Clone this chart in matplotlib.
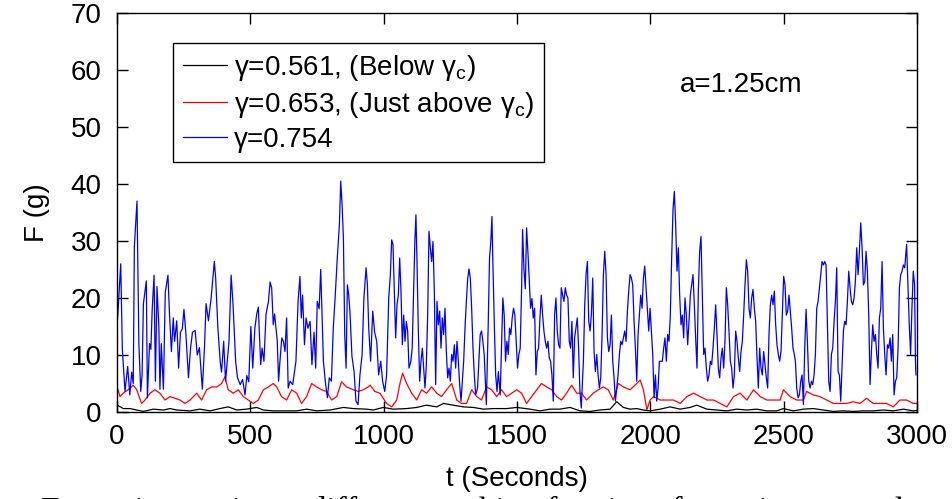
import matplotlib
matplotlib.use("Agg")
import matplotlib.pyplot as plt
import numpy as np

# force readings (seconds, grams)
blue_pts = np.array([
    (0, 15), (3, 17), (14, 26), (20, 11), (30, 3.6), (40, 8), (48, 3), (55, 7), (61, 5), (65, 29),
    (75, 37), (82, 12), (89, 3.6), (94, 6.4), (99, 19), (107, 22), (110, 23), (114, 2.5), (122, 12), (127, 11),
    (132, 18), (139, 24), (144, 5.4), (150, 22), (157, 15), (161, 4), (166, 12), (174, 4), (181, 21), (191, 24),
    (197, 17), (204, 10.6), (211, 16.5), (216, 12.4), (224, 16), (231, 7.7), (238, 14), (245, 14.6), (251, 18), (258, 14),
    (268, 6), (276, 11.3), (283, 14), (293, 14.3), (301, 10), (309, 11.3), (320, 4), (328, 11.3), (334, 19), (343, 16),
    (353, 20), (365, 26.4), (370, 23.5), (378, 15), (387, 8.8), (392, 7), (400, 12.4), (407, 5.4), (420, 12.4), (428, 24),
    (435, 19), (445, 8.8), (452, 6), (462, 4.8), (471, 5.7), (480, 3), (487, 6.4), (494, 5.3), (502, 15), (509, 7.7),
    (517, 14.7), (524, 17.2), (530, 18.4), (534, 13.6), (539, 8.3), (544, 11.2), (551, 8.9), (559, 17.2), (568, 19.4), (574, 22.8),
    (580, 21.8), (586, 15.3), (591, 17.2), (596, 14.7), (601, 12.4), (606, 5.4), (611, 8.9), (618, 13.0), (624, 12.4), (630, 10.6),
    (636, 16.5), (642, 4.2), (649, 5.4), (659, 4.8), (664, 6.5), (671, 8.9), (679, 19.4), (686, 23.8), (691, 16.5), (696, 20.5),
    (703, 11.8), (709, 16.5), (716, 14.7), (724, 15.9), (731, 8.3), (739, 14.0), (745, 7.7), (751, 19.4), (758, 18.1), (764, 25.0),
    (769, 17.0), (774, 8.9), (781, 5.4), (789, 2.5), (796, 6.0), (804, 5.4), (811, 14.7), (818, 20.1), (826, 27.0), (834, 32.9),
    (839, 40.5), (844, 36.4), (849, 30.5), (854, 13.6), (859, 7.7), (864, 22.3), (869, 20.5), (874, 17.2), (881, 9.8), (889, 7.1),
    (896, 1.9), (904, 1.3), (911, 6.5), (919, 10.0), (926, 20.0), (934, 25.3), (939, 22.3), (944, 14.7), (951, 8.9), (959, 17.7),
    (966, 14.0), (974, 12.4), (981, 6.5), (989, 8.9), (996, 5.4), (1004, 3.6), (1011, 6.5), (1019, 20.0), (1025, 24.0), (1030, 30.2),
    (1035, 29.4), (1040, 21.2), (1045, 13.0), (1050, 18.8), (1055, 20.5), (1060, 27.0), (1065, 21.2), (1070, 11.8), (1075, 17.0), (1080, 12.4),
    (1085, 15.9), (1090, 14.2), (1095, 7.7), (1102, 8.9), (1107, 11.2), (1112, 20.5), (1117, 30.0), (1121, 34.6), (1125, 26.4), (1130, 14.2),
    (1135, 5.4), (1140, 8.9), (1145, 11.2), (1150, 7.7), (1155, 4.2), (1160, 8.3), (1165, 17.0), (1170, 31.7), (1175, 28.8), (1180, 26.4),
    (1185, 29.9), (1190, 21.2), (1195, 4.8), (1200, 19.4), (1205, 15.3), (1210, 17.7), (1215, 11.2), (1220, 16.5), (1225, 13.6), (1230, 18.2),
    (1235, 10.6), (1240, 6.0), (1245, 7.7), (1250, 5.4), (1255, 10.1), (1260, 8.9), (1265, 11.8), (1270, 7.7), (1275, 12.4), (1280, 8.9),
    (1285, 4.8), (1290, 1.9), (1295, 5.4), (1300, 8.9), (1305, 14.7), (1310, 19.3), (1315, 23.4), (1320, 25.1), (1325, 23.4), (1330, 18.1),
    (1335, 11.2), (1340, 6.5), (1345, 3.0), (1352, 4.2), (1357, 8.9), (1362, 13.6), (1367, 14.2), (1372, 12.4), (1377, 10.1), (1385, 1.3),
    (1392, 15.2), (1397, 27.0), (1402, 30.0), (1406, 34.3), (1410, 25.3), (1415, 15.2), (1420, 6.5), (1425, 3.6), (1430, 7.1), (1437, 3.0),
    (1442, 11.2), (1447, 20.0), (1452, 17.0), (1457, 8.9), (1462, 12.4), (1467, 10.1), (1472, 14.7), (1477, 13.6), (1482, 16.5), (1487, 18.2),
    (1492, 17.0), (1497, 12.4), (1502, 7.7), (1507, 10.1), (1512, 11.2), (1517, 21.2), (1521, 32.0), (1526, 25.1), (1531, 21.6), (1536, 32.3),
    (1541, 28.0), (1546, 23.0), (1551, 18.2), (1556, 19.9), (1561, 16.5), (1566, 18.2), (1571, 6.5), (1576, 10.6), (1581, 11.2), (1586, 16.5),
    (1591, 20.5), (1596, 17.0), (1601, 14.2), (1606, 12.4), (1611, 11.2), (1616, 12.4), (1621, 9.5), (1626, 8.9), (1631, 6.5), (1636, 1.9),
    (1641, 17.0), (1646, 20.0), (1651, 14.2), (1656, 11.8), (1661, 11.2), (1666, 21.8), (1671, 20.5), (1676, 19.4), (1681, 21.8), (1686, 20.5),
    (1691, 20.0), (1696, 12.4), (1701, 11.2), (1706, 15.9), (1711, 6.0), (1716, 13.0), (1721, 14.7), (1726, 16.5), (1731, 11.2), (1736, 3.6),
    (1741, 0.7), (1749, 8.9), (1754, 18.8), (1759, 24.1), (1764, 26.4), (1769, 15.9), (1774, 14.2), (1779, 17.2), (1784, 23.5), (1789, 10.6),
    (1794, 7.1), (1799, 10.1), (1804, 6.5), (1809, 4.2), (1814, 6.0), (1819, 13.6), (1824, 24.1), (1829, 28.2), (1834, 24.1), (1839, 13.0),
    (1844, 10.6), (1849, 11.8), (1854, 17.0), (1859, 8.9), (1864, 6.0), (1869, 1.9), (1874, 4.2), (1879, 6.5), (1884, 10.1), (1889, 12.4),
    (1894, 11.8), (1899, 13.0), (1904, 14.2), (1909, 12.4), (1914, 17.7), (1919, 21.2), (1924, 24.1), (1929, 23.5), (1934, 22.3), (1939, 15.9),
    (1944, 11.2), (1949, 5.4), (1954, 13.6), (1959, 17.0), (1964, 20.5), (1969, 18.2), (1974, 23.5), (1979, 25.6), (1984, 21.8), (1989, 17.7),
    (1994, 14.2), (1999, 18.2), (2004, 14.2), (2009, 10.1), (2014, 2.5), (2019, 6.5), (2024, 1.9), (2029, 4.2), (2034, 8.9), (2040, 8.9),
    (2045, 8.9), (2050, 11.2), (2055, 13.0), (2060, 8.9), (2065, 13.6), (2070, 12.4), (2075, 17.0), (2080, 27.0), (2085, 35.5), (2090, 38.7),
    (2095, 32.9), (2100, 24.7), (2105, 28.8), (2110, 20.5), (2115, 15.3), (2120, 17.0), (2125, 13.0), (2130, 20.0), (2135, 17.0), (2140, 11.8),
    (2145, 15.9), (2150, 20.5), (2155, 22.3), (2160, 24.1), (2165, 18.8), (2170, 12.9), (2175, 7.7), (2180, 21.2), (2185, 28.2), (2190, 30.8),
    (2195, 20.5), (2200, 10.1), (2205, 11.2), (2210, 7.7), (2215, 5.4), (2220, 6.5), (2225, 8.9), (2230, 8.3), (2235, 11.2), (2240, 14.7),
    (2245, 18.8), (2250, 13.6), (2255, 7.7), (2260, 6.0), (2265, 9.5), (2270, 11.2), (2275, 7.7), (2280, 12.4), (2285, 21.8), (2290, 18.8),
    (2295, 14.2), (2300, 8.9), (2305, 7.7), (2310, 4.2), (2315, 6.5), (2320, 14.2), (2325, 12.4), (2330, 9.5), (2335, 7.1), (2340, 10.6),
    (2345, 12.4), (2350, 17.0), (2355, 22.3), (2360, 26.7), (2365, 24.7), (2370, 18.2), (2375, 16.5), (2380, 20.0), (2385, 21.5), (2390, 18.2),
    (2395, 15.9), (2400, 9.5), (2405, 4.2), (2410, 11.2), (2415, 7.7), (2420, 6.5), (2425, 10.6), (2430, 8.3), (2435, 6.0), (2440, 4.2),
    (2445, 13.6), (2450, 18.8), (2455, 20.5), (2460, 18.8), (2465, 21.2), (2470, 15.3), (2475, 11.8), (2480, 10.1), (2485, 8.9), (2490, 10.6),
    (2495, 17.0), (2500, 23.8), (2505, 22.3), (2510, 17.0), (2515, 17.7), (2520, 20.5), (2525, 17.7), (2530, 14.7), (2535, 11.2), (2540, 10.1),
    (2544, 8.9), (2549, 4.2), (2554, 2.5), (2559, 3.0), (2564, 5.4), (2569, 6.5), (2574, 1.3), (2579, 11.2), (2584, 18.0), (2589, 12.4),
    (2594, 5.4), (2599, 4.2), (2604, 5.4), (2609, 4.8), (2614, 6.5), (2619, 10.1), (2624, 18.2), (2629, 19.4), (2634, 21.8), (2639, 24.1),
    (2644, 26.4), (2649, 25.8), (2654, 26.4), (2659, 25.8), (2664, 15.3), (2669, 5.4), (2674, 3.6), (2679, 10.1), (2684, 11.2), (2689, 15.9),
    (2694, 19.4), (2699, 25.3), (2704, 7.1), (2709, 6.5), (2714, 1.9), (2719, 8.3), (2724, 14.2), (2729, 15.9), (2734, 15.3), (2739, 19.4),
    (2744, 24.7), (2749, 21.8), (2754, 19.4), (2759, 18.8), (2764, 20.0), (2769, 23.0), (2774, 28.8), (2779, 24.1), (2784, 28.2), (2789, 33.2),
    (2794, 28.8), (2799, 22.3), (2804, 22.9), (2809, 28.2), (2814, 24.7), (2819, 17.0), (2824, 4.8), (2829, 10.6), (2834, 15.3), (2839, 12.4),
    (2844, 13.6), (2849, 10.1), (2854, 7.7), (2859, 16.5), (2864, 18.2), (2869, 26.4), (2874, 14.7), (2879, 10.1), (2884, 6.5), (2889, 11.8),
    (2894, 11.2), (2899, 13.0), (2904, 8.9), (2909, 13.6), (2914, 3.0), (2919, 5.4), (2924, 6.0), (2929, 11.2), (2934, 21.8), (2939, 24.1),
    (2944, 24.7), (2949, 25.8), (2954, 25.3), (2959, 28.2), (2961, 29.4), (2966, 22.3), (2971, 15.3), (2976, 10.1), (2981, 18.2), (2986, 24.7),
    (2991, 22.3), (2994, 9.5), (2996, 6.5),
])

red_pts = np.array([
    (1, 4.4), (11, 2.7), (24, 3.3), (49, 4.2), (61, 4.7), (74, 3.9), (92, 1.5), (105, 2.1), (124, 3.3), (142, 3.9),
    (161, 3.3), (180, 2.1), (199, 2.7), (218, 2.4), (236, 2.1), (255, 1.5), (274, 2.1), (299, 3.3), (317, 2.1), (336, 3.9),
    (355, 4.4), (374, 4.4), (392, 5.0), (405, 6.2), (417, 3.9), (436, 3.3), (455, 3.9), (474, 2.7), (492, 2.1), (511, 1.5),
    (530, 2.1), (549, 3.9), (568, 4.4), (586, 5.0), (599, 4.4), (617, 2.7), (636, 2.1), (655, 3.9), (674, 3.3), (692, 1.5),
    (711, 2.7), (730, 5.0), (749, 4.4), (767, 3.9), (786, 3.6), (805, 2.1), (824, 2.7), (842, 5.3), (861, 4.4), (886, 3.9),
    (905, 3.6), (924, 3.9), (942, 4.4), (949, 4.7), (967, 3.6), (986, 3.3), (1011, 1.5), (1030, 0.9), (1049, 2.1), (1061, 5.0),
    (1071, 6.8), (1086, 5.0), (1105, 3.3), (1124, 2.1), (1142, 3.9), (1161, 3.3), (1180, 4.4), (1199, 3.3), (1217, 2.7), (1236, 3.9),
    (1255, 5.0), (1274, 2.1), (1292, 1.5), (1311, 1.5), (1330, 3.9), (1349, 2.7), (1367, 2.1), (1386, 4.4), (1405, 3.9), (1424, 2.7),
    (1442, 3.9), (1461, 2.7), (1480, 3.3), (1499, 3.9), (1517, 3.3), (1536, 1.5), (1555, 2.7), (1574, 3.9), (1592, 5.0), (1611, 4.4),
    (1630, 3.9), (1649, 2.7), (1667, 2.1), (1686, 3.3), (1705, 4.7), (1724, 3.3), (1742, 3.3), (1761, 2.1), (1786, 3.3), (1805, 3.9),
    (1824, 4.4), (1842, 3.9), (1861, 2.1), (1880, 5.0), (1899, 4.4), (1924, 3.9), (1949, 5.0), (1962, 5.6), (1974, 3.9), (1987, 0.4),
    (1999, 2.1), (2012, 2.7), (2037, 2.1), (2062, 2.1), (2087, 2.1), (2112, 1.5), (2137, 2.7), (2162, 3.3), (2187, 2.7), (2212, 2.1),
    (2237, 2.1), (2262, 1.5), (2287, 0.9), (2312, 2.7), (2337, 3.3), (2362, 2.1), (2387, 3.9), (2412, 2.7), (2437, 2.1), (2462, 2.1),
    (2487, 2.1), (2499, 3.9), (2524, 2.7), (2549, 2.1), (2574, 2.1), (2586, 3.6), (2611, 3.0), (2636, 2.7), (2661, 2.1), (2686, 1.5),
    (2711, 1.5), (2736, 1.5), (2761, 1.8), (2786, 1.5), (2811, 2.4), (2836, 1.5), (2861, 1.5), (2886, 1.5), (2911, 0.9), (2936, 2.1),
    (2961, 2.1), (2986, 1.5), (3000, 1.5),
])

black_pts = np.array([
    (1, 1.2), (24, 0.6), (49, 0.6), (74, 0.35), (99, 0.1), (136, 0.5), (174, 0.35), (199, 0.6), (224, 0.35), (274, 0.2),
    (311, 0.5), (349, 0.2), (386, 0.6), (417, 0.9), (449, 0.35), (486, 0.5), (524, 0.8), (549, 0.35), (586, 0.2), (624, 0.2),
    (674, 0.2), (711, 0.5), (749, 0.2), (799, 0.35), (849, 0.8), (886, 0.6), (936, 0.5), (961, 0.35), (999, 0.8), (1036, 0.5),
    (1086, 0.6), (1124, 0.8), (1161, 1.2), (1199, 0.9), (1224, 1.5), (1261, 1.2), (1299, 0.9), (1336, 0.8), (1374, 0.5), (1411, 0.6),
    (1461, 0.6), (1499, 0.8), (1549, 0.5), (1586, 0.2), (1624, 0.5), (1661, 0.5), (1699, 0.8), (1736, 0.2), (1774, 0.1), (1811, 0.35),
    (1849, 0.5), (1874, 1.8), (1899, 0.8), (1924, 0.5), (1949, 0.6), (1974, 0.35), (1999, 0.2), (2037, 0.5), (2074, 0.9), (2112, 0.5),
    (2149, 0.8), (2174, 1.2), (2212, 0.5), (2249, 0.35), (2287, 0.2), (2324, 0.5), (2362, 0.35), (2399, 0.5), (2436, 0.2), (2474, 0.2),
    (2499, 0.6), (2536, 0.2), (2574, 0.5), (2611, 0.6), (2649, 0.35), (2686, 0.1), (2724, 0.2), (2761, 0.1), (2799, 0.2), (2836, 0.2),
    (2874, 0.35), (2911, 0.2), (2949, 0.5), (2986, 0.2), (3000, 0.3),
])

labels = [
    r"γ=0.561, (Below γ$_\mathregular{c}$)",
    r"γ=0.653, (Just above γ$_\mathregular{c}$)",
    "γ=0.754",
]
x_ticks = [0, 500, 1000, 1500, 2000, 2500, 3000]
y_ticks = [0, 10, 20, 30, 40, 50, 60, 70]

plt.rcParams["font.family"] = ["Liberation Sans", "DejaVu Sans"]
plt.rcParams["mathtext.fontset"] = "custom"
plt.rcParams["mathtext.rm"] = "Liberation Sans"

FS = 20

fig = plt.figure(figsize=(9.52, 4.99), dpi=100)
ax = fig.add_axes([117 / 952, 1 - 412 / 499, 800 / 952, 399 / 499])

ax.plot(black_pts[:, 0], black_pts[:, 1], color="black", lw=0.9, label=labels[0])
ax.plot(red_pts[:, 0], red_pts[:, 1], color="red", lw=0.9, label=labels[1])
ax.plot(blue_pts[:, 0], blue_pts[:, 1], color="blue", lw=0.9, label=labels[2])

ax.set_xlim(0, 3000)
ax.set_ylim(0, 70)
ax.set_xticks(x_ticks)
ax.set_yticks(y_ticks)
ax.tick_params(direction="in", length=8, width=1, top=True, right=True,
               labelsize=FS)
ax.tick_params(axis="x", pad=9)
ax.tick_params(axis="y", pad=11)
for sp in ax.spines.values():
    sp.set_linewidth(1)

ax.set_xlabel("t (Seconds)", fontsize=FS, labelpad=11)
ax.set_ylabel("F (g)", fontsize=FS, labelpad=15)

ax.text(2111, 57.4, "a=1.25cm", fontsize=FS, va="center", ha="left")

leg = ax.legend(loc="upper left", bbox_to_anchor=(0.07, 0.925), fontsize=FS,
                frameon=True, fancybox=False, edgecolor="black", framealpha=1,
                handlelength=1.6, handletextpad=0.25, borderpad=0.35,
                borderaxespad=0, labelspacing=0.25)
leg.get_frame().set_linewidth(1)

# caption of the page, only its top edge shows at the bottom of the crop
fig.text(0.043, -0.042, "Force time series at different packing fractions for a given sample at",
         family="Liberation Serif", fontsize=24, va="baseline", ha="left")

fig.savefig("out.png", dpi=100)
